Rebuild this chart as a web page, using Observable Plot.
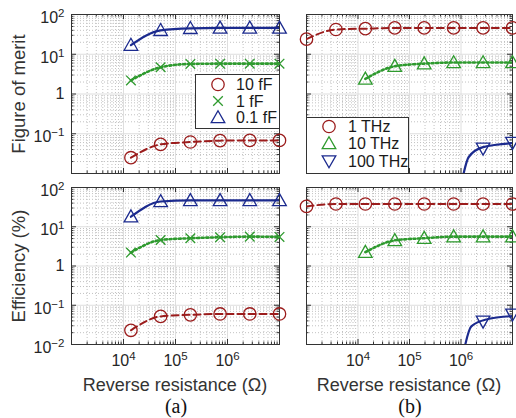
<!DOCTYPE html>
<html><head><meta charset="utf-8">
<script src="https://cdn.jsdelivr.net/npm/d3@7"></script>
<script src="https://cdn.jsdelivr.net/npm/@observablehq/plot@0.6"></script>
<style>
body{margin:0;background:#fff;}
#wrap{position:relative;width:516px;height:418px;overflow:hidden;background:#fff;font-family:"Liberation Sans",Arial,sans-serif;color:#262626;}
.ylab{position:absolute;transform:translate(-50%,-50%) rotate(-90deg);white-space:nowrap;font-size:18.5px;line-height:1;color:#333;}
.xlab{position:absolute;transform:translate(-50%,-50%);white-space:nowrap;font-size:18px;line-height:1;color:#333;}
.cap{position:absolute;transform:translate(-50%,-50%);white-space:nowrap;font-family:"Liberation Serif","Times New Roman",serif;font-size:20px;line-height:1;color:#111;}
</style></head><body><div id="wrap"></div><script>
// ---------------- data ----------------
const resA = [13895, 51795, 193070, 719686, 2682696, 10000000];          // Ω, panel (a)
const resB = [1000, 3728, 13895, 51795, 193070, 719686, 2682696, 10000000]; // Ω, panel (b) 1 THz
const resB10 = [13895, 51795, 193070, 719686, 2682696, 10000000];        // Ω, panel (b) 10 THz
const resB100 = [2682696, 10000000];                                      // Ω, panel (b) 100 THz markers

// panel (a) – capacitance series
const fomA_10fF = [0.025, 0.054, 0.062, 0.067, 0.068, 0.068];
const fomA_1fF  = [2.2, 4.7, 5.7, 5.8, 5.8, 5.8];
const fomA_01fF = [17, 40, 45, 46, 46, 46];
const effA_10fF = [0.023, 0.052, 0.057, 0.060, 0.060, 0.060];
const effA_1fF  = [2.2, 4.6, 5.1, 5.4, 5.6, 5.5];
const effA_01fF = [18, 44, 47, 47, 47, 47];

// panel (b) – frequency series
const fomB_1THz   = [24, 42, 44, 46, 46, 46, 46, 46];
const fomB_10THz  = [2.4, 5.0, 5.8, 6.2, 6.2, 6.2];
const fomB_100THz = [0.043, 0.060];
const effB_1THz   = [33, 38, 38, 38, 38, 38, 38, 38];
const effB_10THz  = [2.25, 4.5, 5.1, 5.6, 5.6, 5.6];
const effB_100THz = [0.039, 0.059];
// 100 THz model curve (falls below the axis near 1 MΩ)
const fomB_100THz_lineR = [1000000, 1412538, 2682696, 10000000];
const fomB_100THz_line  = [0.005, 0.026, 0.046, 0.058];
const effB_100THz_lineR = [1000000, 1584893, 3235937, 10000000];
const effB_100THz_line  = [0.003, 0.029, 0.044, 0.053];

// labels
const legendA = ["10 fF", "1 fF", "0.1 fF"];
const legendB = ["1 THz", "10 THz", "100 THz"];
const yLabels = ["Figure of merit", "Efficiency (%)"];
const xLabel = "Reverse resistance (Ω)";
const captions = ["(a)", "(b)"];
const xTickValues = [1e4, 1e5, 1e6];
const yTickTop = [1e-1, 1, 1e1, 1e2];
const yTickBottom = [1e-2, 1e-1, 1, 1e1, 1e2];

// ---------------- styles ----------------
const RED = "#9b1c1c", GREEN = "#2e9a2e", BLUE = "#1b2a8e";
const sym = {
  circle:  {draw(c){c.moveTo(6.2,0); c.arc(0,0,6.2,0,2*Math.PI);}},
  times:   {draw(c){c.moveTo(-4.8,-4.8); c.lineTo(4.8,4.8); c.moveTo(4.8,-4.8); c.lineTo(-4.8,4.8);}},
  triUp:   {draw(c){c.moveTo(0,-6.8); c.lineTo(6.8,5.2); c.lineTo(-6.8,5.2); c.closePath();}},
  triDown: {draw(c){c.moveTo(0,6.8); c.lineTo(6.8,-5.2); c.lineTo(-6.8,-5.2); c.closePath();}}
};
const lineStyle = {
  red:   {stroke: RED, strokeWidth: 2, strokeDasharray: "7,4"},
  green: {stroke: GREEN, strokeWidth: 2.6, strokeDasharray: "2,2.6"},
  blue:  {stroke: BLUE, strokeWidth: 2.2}
};

const xMinor = [], yMinor = [];
for (let k = 3; k < 7; k++) for (let m = 2; m < 10; m++) xMinor.push(m * 10 ** k);
for (let k = -2; k < 2; k++) for (let m = 2; m < 10; m++) yMinor.push(m * 10 ** k);
const xMajorIn = [1e4, 1e5, 1e6], yMajorIn = [1e-1, 1, 1e1];

const fmt = d => { const e = Math.round(Math.log10(d)); return e === 0 ? "1" : "10^" + e; };

function series(xs, ys, st, symbol, lx, ly) {
  return [
    Plot.line(ly || ys, {x: lx || xs, y: ly || ys, curve: "monotone-x", clip: true, ...lineStyle[st]}),
    Plot.dot(ys, {x: xs, y: ys, symbol, r: 6, fill: "none", stroke: lineStyle[st].stroke, strokeWidth: 1.3})
  ];
}

function panel({left, top, width, height, mL, mR, mT, mB, showX, showY, topRow, marks}) {
  const innerW = width - mL - mR, innerH = height - mT - mB;
  const tickStroke = "#333";
  const svg = Plot.plot({
    width, height, marginLeft: mL, marginRight: mR, marginTop: mT, marginBottom: mB,
    style: {background: "transparent", overflow: "visible", fontSize: "16px",
            fontFamily: '"Liberation Sans", Arial, sans-serif', color: "#262626"},
    x: {type: "log", domain: [1e3, 1e7], axis: showX ? "bottom" : null, ticks: xTickValues,
        tickFormat: fmt, tickSize: 0, tickPadding: 10, label: null},
    y: {type: "log", domain: [1e-2, 1e2], axis: showY ? "left" : null,
        ticks: topRow ? yTickTop : yTickBottom, tickFormat: fmt, tickSize: 0, tickPadding: 7, label: null},
    marks: [
      Plot.ruleX(xMinor, {stroke: "#c2c2c2", strokeDasharray: "1,2"}),
      Plot.ruleY(yMinor, {stroke: "#c2c2c2", strokeDasharray: "1,2"}),
      Plot.ruleX(xMajorIn, {stroke: "#dedede"}),
      Plot.ruleY(yMajorIn, {stroke: "#dedede"}),
      // inward ticks (major + minor) on all four sides
      Plot.ruleX(xMajorIn, {stroke: tickStroke, insetTop: innerH - 5}),
      Plot.ruleX(xMajorIn, {stroke: tickStroke, insetBottom: innerH - 5}),
      Plot.ruleX(xMinor, {stroke: tickStroke, insetTop: innerH - 2.5}),
      Plot.ruleX(xMinor, {stroke: tickStroke, insetBottom: innerH - 2.5}),
      Plot.ruleY(yMajorIn, {stroke: tickStroke, insetRight: innerW - 5}),
      Plot.ruleY(yMajorIn, {stroke: tickStroke, insetLeft: innerW - 5}),
      Plot.ruleY(yMinor, {stroke: tickStroke, insetRight: innerW - 2.5}),
      Plot.ruleY(yMinor, {stroke: tickStroke, insetLeft: innerW - 2.5}),
      Plot.frame({stroke: "#333"}),
      ...marks
    ]
  });
  // superscripts for 10^n tick labels
  const ns = "http://www.w3.org/2000/svg";
  svg.querySelectorAll("text").forEach(t => {
    const m = /^10\^(-?\d+)$/.exec(t.textContent.trim());
    if (!m) return;
    const isY = !!t.closest('[aria-label^="y-axis"]');
    t.textContent = "";
    const b = document.createElementNS(ns, "tspan"); b.textContent = "10";
    if (isY) b.setAttribute("dy", "0.22em");
    const s = document.createElementNS(ns, "tspan"); s.textContent = m[1].replace("-", "−");
    s.setAttribute("dy", "-0.55em"); s.setAttribute("font-size", "0.72em");
    t.append(b, s);
  });
  svg.style.position = "absolute"; svg.style.left = left + "px"; svg.style.top = top + "px";
  return svg;
}

const wrap = document.getElementById("wrap");

wrap.appendChild(panel({left: 0, top: 0, width: 290, height: 180, mL: 71, mR: 11, mT: 14, mB: 7,
  showX: false, showY: true, topRow: true, marks: [
    ...series(resA, fomA_10fF, "red", sym.circle),
    ...series(resA, fomA_1fF, "green", sym.times),
    ...series(resA, fomA_01fF, "blue", sym.triUp)
  ]}));
wrap.appendChild(panel({left: 296, top: 0, width: 220, height: 180, mL: 10, mR: 4, mT: 14, mB: 7,
  showX: false, showY: false, topRow: true, marks: [
    ...series(resB, fomB_1THz, "red", sym.circle),
    ...series(resB10, fomB_10THz, "green", sym.triUp),
    ...series(resB100, fomB_100THz, "blue", sym.triDown, fomB_100THz_lineR, fomB_100THz_line)
  ]}));
wrap.appendChild(panel({left: 0, top: 177, width: 290, height: 200, mL: 71, mR: 11, mT: 10, mB: 33,
  showX: true, showY: true, topRow: false, marks: [
    ...series(resA, effA_10fF, "red", sym.circle),
    ...series(resA, effA_1fF, "green", sym.times),
    ...series(resA, effA_01fF, "blue", sym.triUp)
  ]}));
wrap.appendChild(panel({left: 296, top: 177, width: 220, height: 200, mL: 10, mR: 4, mT: 10, mB: 33,
  showX: true, showY: false, topRow: false, marks: [
    ...series(resB, effB_1THz, "red", sym.circle),
    ...series(resB10, effB_10THz, "green", sym.triUp),
    ...series(resB100, effB_100THz, "blue", sym.triDown, effB_100THz_lineR, effB_100THz_line)
  ]}));

// legends
function legend(left, top, w, h, labels, syms, colors, mx, tx, rows) {
  const svg = d3.create("svg").attr("width", w).attr("height", h)
    .style("position", "absolute").style("left", left + "px").style("top", top + "px").style("overflow", "visible");
  svg.append("rect").attr("x", 0.5).attr("y", 0.5).attr("width", w - 1).attr("height", h - 1)
    .attr("fill", "#fff").attr("stroke", "#333");
  labels.forEach((lab, i) => {
    const p = d3.path(); syms[i].draw(p);
    svg.append("path").attr("transform", `translate(${mx},${rows[i]})`).attr("d", p.toString())
      .attr("fill", "none").attr("stroke", colors[i]).attr("stroke-width", 1.3);
    svg.append("text").attr("x", tx).attr("y", rows[i]).attr("dy", "0.36em")
      .attr("font-size", 16).attr("fill", "#1a1a1a").attr("font-family", '"Liberation Sans", Arial, sans-serif').text(lab);
  });
  wrap.appendChild(svg.node());
}
legend(195, 74, 85, 55, legendA, [sym.circle, sym.times, sym.triUp], [RED, GREEN, BLUE], 23, 41, [10.5, 27, 43.5]);
legend(306, 117, 103, 57, legendB, [sym.circle, sym.triUp, sym.triDown], [RED, GREEN, BLUE], 23, 42, [9.5, 26.5, 44]);

// text labels
function addDiv(cls, txt, x, y) {
  const d = document.createElement("div"); d.className = cls; d.textContent = txt;
  d.style.left = x + "px"; d.style.top = y + "px"; wrap.appendChild(d);
}
addDiv("ylab", yLabels[0], 19, 94);
addDiv("ylab", yLabels[1], 19, 266);
addDiv("xlab", xLabel, 175, 385);
addDiv("xlab", xLabel, 409, 385);
addDiv("cap", captions[0], 176, 406);
addDiv("cap", captions[1], 410, 406);
</script></body></html>
